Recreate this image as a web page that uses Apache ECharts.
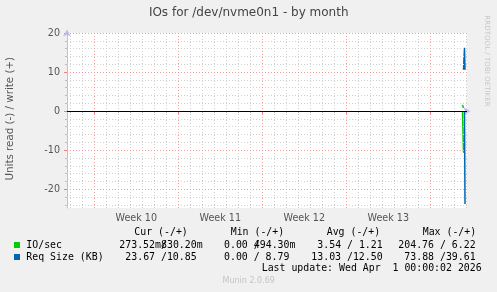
<!DOCTYPE html>
<html>
<head>
<meta charset="utf-8">
<script src="https://cdn.jsdelivr.net/npm/echarts@6/dist/echarts.min.js"></script>
<style>
html,body{margin:0;padding:0;background:#f0f0f0;}
#c{width:497px;height:292px;}
</style>
</head>
<body>
<div id="c"></div>
<script>
// ---- data (hours from left edge of the month window, 2h per pixel) ----
const ioHours      = [791, 793, 795];
const ioReadVals   = [0, -10.5, -10.5];
const ioWriteVals  = [1.6, 0.8, null];
const reqHours     = [793, 795, 796];
const reqReadVals  = [null, 0, -23.8];
const reqWriteVals = [10.6, 16.2, 10.6];

const weekLabels     = ['Week 10', 'Week 11', 'Week 12', 'Week 13'];
const weekStartHours = [54.6, 222.6, 390.6, 558.6, 726.6];
const yTickLabels    = [-20, -10, 0, 10, 20];

const fieldNames = ['IO/sec', 'Req Size (KB)'];
const fieldColors = ['#00cc00', '#0066b3'];
const headers = ['Cur (-/+)', 'Min (-/+)', 'Avg (-/+)', 'Max (-/+)'];
const curText = [['273.52m', '/', '830.20m'], ['23.67 /10.85']];
const minText = [['0.00 ', '/', '494.30m'], ['0.00 / 8.79']];
const avgText = ['3.54 / 1.21', '13.03 /12.50'];
const maxText = ['204.76 / 6.22', '73.88 /39.61'];

const X_MIN = 0, X_MAX = 800, Y_MIN = -24.8, Y_MAX = 20;

function pairs(xs, ys){ return xs.map((x,i)=>[x, ys[i]]); }

// grid line positions
const dayLines = [];
for (let h = weekStartHours[0] - 48; h < X_MAX; h += 24) {
  if (!weekStartHours.some(w => Math.abs(w - h) < 0.01)) dayLines.push(h);
}
const minorY = [];
for (let v = -24; v <= 20; v += 2) { if (v % 10 !== 0) minorY.push(v); }
const weekMid = weekLabels.map((_, i) => weekStartHours[i] + 84);

const graphics = [];
function txt(x, y, s, opt){
  graphics.push(Object.assign({type:'text', x:x, y:y, silent:true,
    style:Object.assign({text:s, fill:'#000', font:'9.9px "DejaVu Sans Mono"', textAlign:'left', textVerticalAlign:'middle'}, opt||{})}));
}
// title
txt(248.7, 13.3, 'IOs for /dev/nvme0n1 - by month', {font:'12px "DejaVu Sans"', fill:'#444', textAlign:'center'});
// y name
graphics.push({type:'text', x:10, y:118.7, rotation:Math.PI/2, silent:true,
  style:{text:'Units read (-) / write (+)', font:'10.3px "DejaVu Sans"', fill:'#555', textAlign:'center', textVerticalAlign:'middle'}});
// rrdtool credit
graphics.push({type:'text', x:487.3, y:61, rotation:-Math.PI/2, silent:true,
  style:{text:'RRDTOOL / TOBI OETIKER', font:'7.1px "DejaVu Sans"', fill:'#c8c8c8', textAlign:'center', textVerticalAlign:'middle'}});
// legend header
const hx = [134.3, 230.7, 326.7, 422.7];
headers.forEach((h,i)=>txt(hx[i], 232.3, h));
const rowY = [245, 257];
fieldNames.forEach((n,i)=>{
  graphics.push({type:'rect', silent:true, shape:{x:14, y:rowY[i]-3, width:6, height:6}, style:{fill:fieldColors[i]}});
  txt(26.3, rowY[i], n);
});
// row 1 pieces
txt(119.3, rowY[0], curText[0][0]); txt(161, rowY[0], curText[0][1]); txt(161, rowY[0], curText[0][2]);
txt(224, rowY[0], minText[0][0]); txt(253.8, rowY[0], minText[0][1]); txt(253.8, rowY[0], minText[0][2]);
txt(317.3, rowY[0], avgText[0]);
txt(398.3, rowY[0], maxText[0]);
// row 2
txt(125.3, rowY[1], curText[1][0]);
txt(224, rowY[1], minText[1][0]);
txt(311.3, rowY[1], avgText[1]);
txt(404.3, rowY[1], maxText[1]);
txt(261.7, 268.7, 'Last update: Wed Apr  1 00:00:02 2026');
txt(248.7, 280.7, 'Munin 2.0.69', {font:'8px "DejaVu Sans"', fill:'#c4c4c4', textAlign:'center'});

const minorStyle = {color:'#cfcfcf', width:1, type:[1,2]};
const majorStyle = {color:'#f4a0a0', width:1, type:[1,2]};

const gridLines = [];
dayLines.forEach(h=>gridLines.push({xAxis:h, lineStyle:minorStyle}));
minorY.forEach(v=>gridLines.push({yAxis:v, lineStyle:minorStyle}));
weekStartHours.forEach(h=>gridLines.push({xAxis:h, lineStyle:majorStyle}));
yTickLabels.filter(v=>v!==0).forEach(v=>gridLines.push({yAxis:v, lineStyle:majorStyle}));
// black zero rule drawn after the grid lines
gridLines.push({yAxis:0, lineStyle:{color:'#000000', width:1.2, type:'solid'}});

const axisLineStyle = {color:'#bcbcf2', width:1};

const option = {
  backgroundColor:'#f0f0f0',
  animation:false,
  grid:{left:67, right:30, top:33, bottom:84, show:true, backgroundColor:'#ffffff', borderWidth:0},
  graphic:graphics,
  xAxis:[{
    type:'value', min:X_MIN, max:X_MAX,
    axisLine:{show:true, lineStyle:axisLineStyle, symbol:['none','arrow'], symbolSize:[6,7], symbolOffset:[0,3.5]},
    axisTick:{show:true, customValues:dayLines, length:2, lineStyle:{color:'#bbbbbb'}},
    axisLabel:{show:true, customValues:weekMid, margin:5, color:'#555', fontFamily:'DejaVu Sans', fontSize:9.6,
      formatter:(v)=>{ const i = weekMid.findIndex(m=>Math.abs(m-v)<0.01); return i>=0 ? weekLabels[i] : ''; }},
    splitLine:{show:false}
  },{
    type:'value', min:X_MIN, max:X_MAX, position:'bottom',
    axisLine:{show:false},
    axisTick:{show:true, customValues:weekStartHours, length:3, lineStyle:{color:'#f08080'}},
    axisLabel:{show:false}, splitLine:{show:false}
  }],
  yAxis:[{
    type:'value', min:Y_MIN, max:Y_MAX,
    axisLine:{show:true, lineStyle:axisLineStyle, symbol:['none','arrow'], symbolSize:[6,7], symbolOffset:[0,3.5]},
    axisTick:{show:true, customValues:yTickLabels, length:3, lineStyle:{color:'#f08080'}},
    axisLabel:{show:true, customValues:yTickLabels, margin:7, color:'#555', fontFamily:'DejaVu Sans', fontSize:9.6},
    splitLine:{show:false}
  },{
    type:'value', min:Y_MIN, max:Y_MAX, position:'left',
    axisLine:{show:false},
    axisTick:{show:true, customValues:minorY, length:2, lineStyle:{color:'#bbbbbb'}},
    axisLabel:{show:false}, splitLine:{show:false}
  }],
  series:[
    {type:'line', data:[], z:1, silent:true,
      markLine:{silent:true, symbol:['none','none'], label:{show:false}, animation:false, data:gridLines}},
    {name:'IO read', type:'line', data:pairs(ioHours, ioReadVals), z:3, showSymbol:false,
      lineStyle:{color:fieldColors[0], width:1.5}},
    {name:'IO write', type:'line', data:pairs(ioHours, ioWriteVals), z:3, showSymbol:false,
      lineStyle:{color:fieldColors[0], width:1.5}},
    {name:'Req read', type:'line', data:pairs(reqHours, reqReadVals), z:4, showSymbol:false,
      lineStyle:{color:fieldColors[1], width:1.5}},
    {name:'Req write', type:'line', data:pairs(reqHours, reqWriteVals), z:4, showSymbol:false,
      lineStyle:{color:fieldColors[1], width:1.5}}
  ]
};
const chart = echarts.init(document.getElementById('c'), null, {renderer:'canvas'});
chart.setOption(option);
</script>
</body>
</html>
